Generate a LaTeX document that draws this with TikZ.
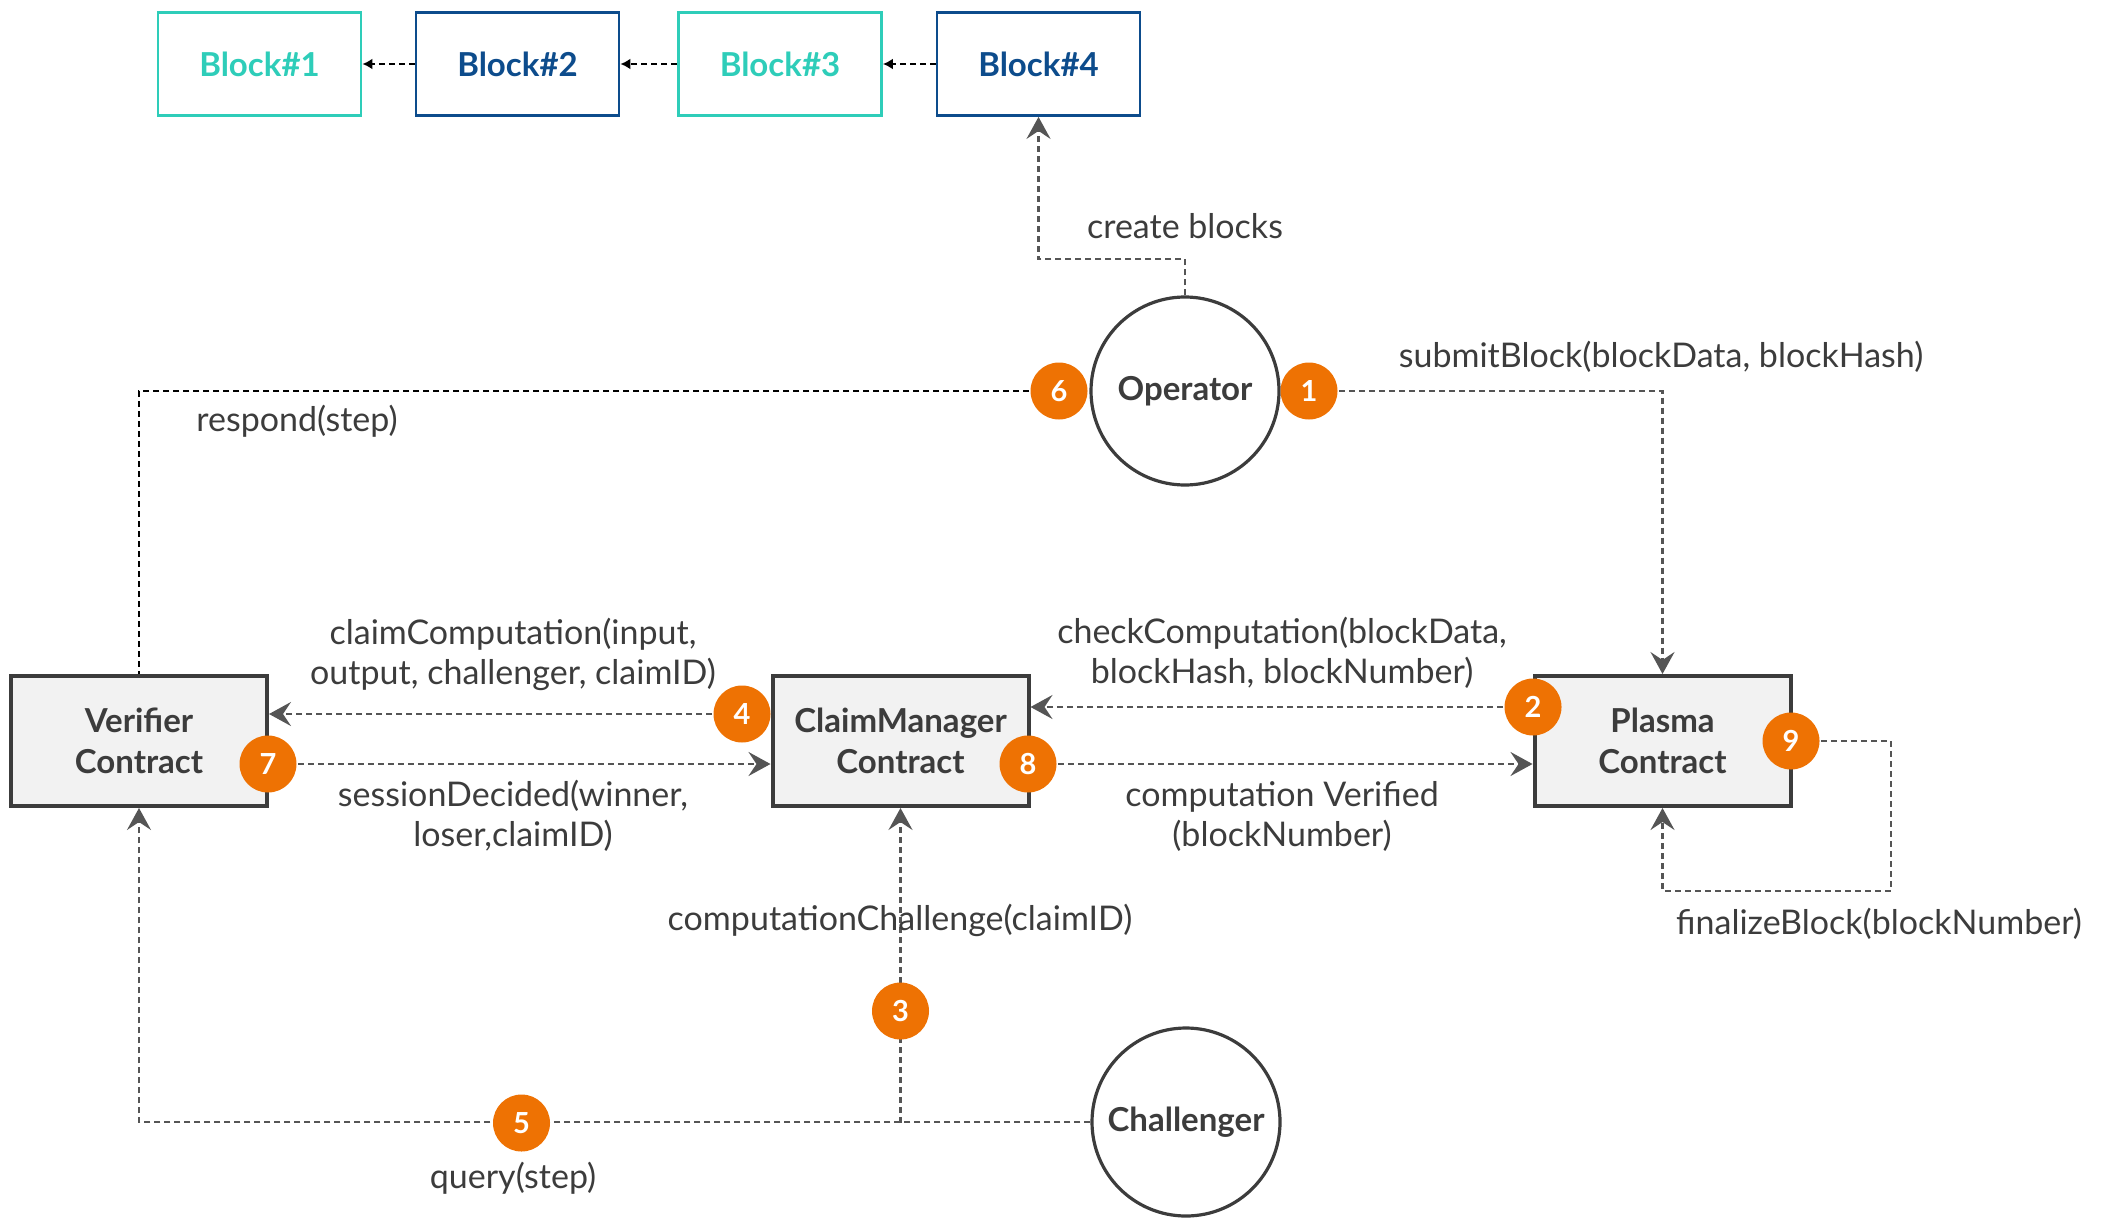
\documentclass[tikz,border=0pt]{standalone}
\usepackage{fontspec}
\setmainfont{Lato}
\usetikzlibrary{arrows.meta,calc}
\definecolor{tealb}{HTML}{2ECDB9}
\definecolor{blueb}{HTML}{0D4C8C}
\definecolor{orangeb}{HTML}{EE7203}
\definecolor{lineg}{HTML}{555555}
\definecolor{boxg}{HTML}{F2F2F2}
\definecolor{textg}{HTML}{3C3C3C}
\tikzset{
  blockbox/.style={draw, line width=1.4pt, fill=white, minimum width=101.5pt, minimum height=51.5pt, inner sep=0pt, font=\fontsize{16.5}{19}\selectfont\bfseries},
  tealblock/.style={blockbox, draw=tealb, text=tealb},
  blueblock/.style={blockbox, draw=blueb, text=blueb},
  contract/.style={draw=textg, line width=2pt, fill=boxg, minimum width=128pt, minimum height=65pt, inner sep=0pt, align=center, text=textg, font=\fontsize{16.5}{20.5}\selectfont\bfseries},
  actor/.style={circle, draw=textg, line width=1.6pt, fill=white, minimum size=94pt, inner sep=0pt, text=textg, font=\fontsize{16.5}{19}\selectfont\bfseries},
  badge/.style={circle, fill=orangeb, minimum size=28.5pt, inner sep=0pt, text=white, font=\fontsize{14.5}{16}\selectfont\bfseries},
  lbl/.style={align=center, text=textg, font=\fontsize{17}{20}\selectfont},
  conn/.style={draw=lineg, line width=1.2pt, dash pattern=on 3pt off 2pt},
  darkconn/.style={draw=black, line width=1.1pt, dash pattern=on 3pt off 2pt},
  arr/.style={-{Stealth[length=11pt,width=12pt,inset=4pt]}},
  smallarr/.style={-{Latex[length=5pt,width=5.5pt]}}
}
\begin{document}
\begin{tikzpicture}[x=0.5pt,y=-0.5pt]
\useasboundingbox (0,0) rectangle (2112,1230);

% blocks
\node[tealblock] (b1) at (259.5,64) {Block\#1};
\node[blueblock] (b2) at (517.5,64) {Block\#2};
\node[tealblock] (b3) at (780,64) {Block\#3};
\node[blueblock] (b4) at (1038.5,64) {Block\#4};

% contracts
\node[contract] (vf) at (139,741) {Verifier\\Contract};
\node[contract] (cm) at (900.5,741) {ClaimManager\\Contract};
\node[contract] (pl) at (1662.5,741) {Plasma\\Contract};

% actors
\node[actor] (op) at (1185,391) {Operator};
\node[actor] (ch) at (1186,1122) {Challenger};

% helper coordinates
\coordinate (cbk) at (1038.5,259);
\coordinate (loopc) at (1890.8,891);
\coordinate (jn) at (900.5,1123);

% badge positions
\coordinate (p1) at (1309,391);
\coordinate (p6) at (1059,391);
\coordinate (p4) at (742,714);
\coordinate (p7) at (268,764);
\coordinate (p2) at (1533,707);
\coordinate (p8) at (1028,764);
\coordinate (p9) at (1791,741);
\coordinate (p3) at (900.5,1011);
\coordinate (p5) at (521.5,1123);

% block chain connectors
\draw[darkconn,smallarr] (b2.west) -- (b1.east);
\draw[darkconn,smallarr] (b3.west) -- (b2.east);
\draw[darkconn,smallarr] (b4.west) -- (b3.east);

% operator connectors
\draw[conn,arr] (op.north) |- (cbk) -- (b4.south);
\draw[conn,arr] (p1) -| (pl.north);
\draw[darkconn] (p6) -| (vf.north);

% contract interactions
\draw[conn,arr] (p4) -- (p4 -| vf.east);
\draw[conn,arr] (p7) -- (p7 -| cm.west);
\draw[conn,arr] (p2) -- (p2 -| cm.east);
\draw[conn,arr] (p8) -- (p8 -| pl.west);
\draw[conn,arr] (p9) -| (loopc) -| (pl.south);

% challenger connectors
\draw[conn,arr] (ch.west) -| (vf.south);
\draw[conn,arr] (jn) -- (cm.south);

% badges
\node[badge] (bd1) at (p1) {1};
\node[badge] (bd2) at (p2) {2};
\node[badge] (bd3) at (p3) {3};
\node[badge] (bd4) at (p4) {4};
\node[badge] (bd5) at (p5) {5};
\node[badge] (bd6) at (p6) {6};
\node[badge] (bd7) at (p7) {7};
\node[badge] (bd8) at (p8) {8};
\node[badge] (bd9) at (p9) {9};

% labels
\node[lbl] (lcb) at (1185,226) {create blocks};
\node[lbl] (lsb) at (1661,357) {submitBlock(blockData, blockHash)};
\node[lbl] (lrs) at (297,421) {respond(step)};
\node[lbl] (lcc) at (513,654) {claimComputation(input,\\output, challenger, claimID)};
\node[lbl] (lsd) at (513,816) {sessionDecided(winner,\\loser,claimID)};
\node[lbl] (lck) at (1282,653) {checkComputation(blockData,\\blockHash, blockNumber)};
\node[lbl] (lcv) at (1282,816) {computation Verified\\(blockNumber)};
\node[lbl] (lfb) at (1879,924) {finalizeBlock(blockNumber)};
\node[lbl] (lch) at (900,920) {computationChallenge(claimID)};
\node[lbl] (lq) at (513,1178) {query(step)};
\end{tikzpicture}
\end{document}
